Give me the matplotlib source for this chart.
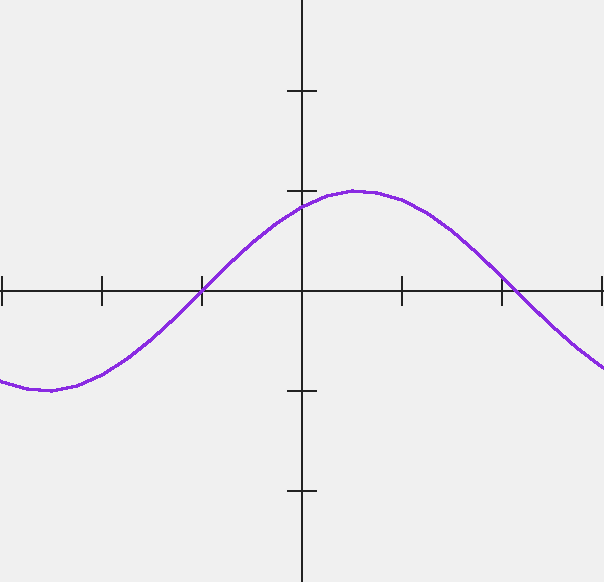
import matplotlib
matplotlib.use("Agg")
import matplotlib.pyplot as plt

# points (x in axis units, 100 px per unit)
xs = [-3.1, -3.0, -2.75, -2.5, -2.25, -2.0, -1.75, -1.5, -1.25, -1.0, -0.75, -0.5,
      -0.25, 0.0, 0.25, 0.5, 0.75, 1.0, 1.25, 1.5, 1.75, 2.0, 2.25, 2.5, 2.75, 3.0, 3.1]
ys = [-0.86, -0.91, -0.98, -1.0, -0.95, -0.84, -0.68, -0.48, -0.25, 0.0, 0.25, 0.48,
      0.68, 0.84, 0.95, 1.0, 0.98, 0.91, 0.78, 0.6, 0.38, 0.14, -0.11, -0.35, -0.57, -0.76, -0.82]

xticks = [-3, -2, -1, 1, 2, 3]
yticks = [-2, -1, 1, 2]

fig = plt.figure(figsize=(6.04, 5.82), dpi=100)
fig.patch.set_facecolor('#f0f0f0')
ax = fig.add_axes([0, 0, 1, 1])
ax.set_facecolor('#f0f0f0')

ax.plot(xs, ys, color='#8a2be2', linewidth=1.6, zorder=3, antialiased=False)

ax.set_xlim(-3.02, 3.02)
ax.set_ylim(-2.91, 2.91)

for side in ['top', 'right']:
    ax.spines[side].set_visible(False)
for side in ['left', 'bottom']:
    ax.spines[side].set_position(('data', 0))
    ax.spines[side].set_color('#222222')
    ax.spines[side].set_linewidth(1.44)
    ax.spines[side].set_antialiased(False)

ax.set_xticks(xticks)
ax.set_yticks(yticks)
ax.tick_params(direction='inout', length=21.6, width=1.44, color='#222222',
               labelbottom=False, labelleft=False)

fig.savefig('out.png', dpi=100, facecolor=fig.get_facecolor())
